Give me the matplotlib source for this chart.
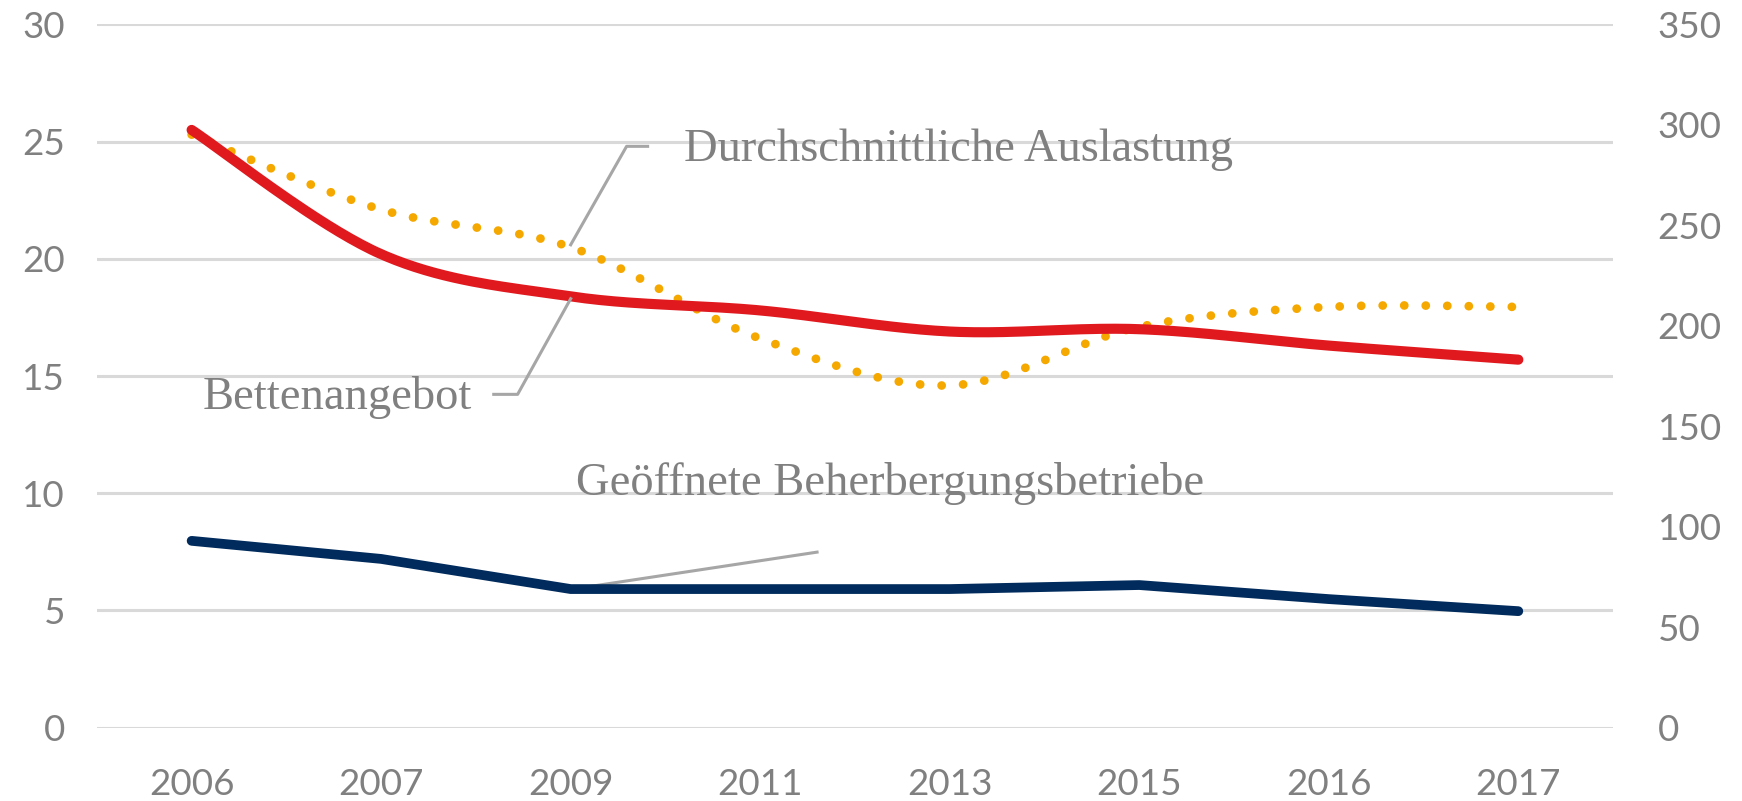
import numpy as np
import matplotlib
matplotlib.use("Agg")
from matplotlib import pyplot as plt

# data
years = ['2006', '2007', '2009', '2011', '2013', '2015', '2016', '2017']
bettenangebot = [25.5, 20.2, 18.4, 17.8, 16.9, 17.0, 16.3, 15.7]      # left axis
auslastung = [25.3, 22.1, 20.5, 16.6, 14.6, 17.1, 17.95, 17.95]       # left axis
betriebe = [93, 84, 69, 69, 69, 71, 64, 58]                            # right axis
left_ticks = [0, 5, 10, 15, 20, 25, 30]
right_ticks = [0, 50, 100, 150, 200, 250, 300, 350]

RED = '#E0191F'
NAVY = '#002B5C'
ORANGE = '#F5A800'
GRID = '#D9D9D9'
TXT = '#808080'
LEAD = '#A6A6A6'

def smooth(xs, ys, n=40):
    # catmull-rom style bezier, like "smoothed line" in spreadsheets
    xs = np.asarray(xs, float)
    ys = np.asarray(ys, float)
    px = np.concatenate(([xs[0]], xs, [xs[-1]]))
    py = np.concatenate(([ys[0]], ys, [ys[-1]]))
    outx, outy = [], []
    t = np.linspace(0, 1, n)
    for i in range(1, len(px) - 2):
        p0 = np.array([px[i], py[i]])
        p3 = np.array([px[i + 1], py[i + 1]])
        c1 = p0 + (p3 - np.array([px[i - 1], py[i - 1]])) / 6
        c2 = p3 - (np.array([px[i + 2], py[i + 2]]) - p0) / 6
        b = ((1 - t) ** 3)[:, None] * p0 + (3 * (1 - t) ** 2 * t)[:, None] * c1 \
            + (3 * (1 - t) * t ** 2)[:, None] * c2 + (t ** 3)[:, None] * p3
        outx.extend(b[:, 0])
        outy.extend(b[:, 1])
    return np.array(outx), np.array(outy)

fig = plt.figure(figsize=(17.42, 8.01), dpi=100)
ax = fig.add_axes([0.0556, 0.0915, 0.8704, 0.878])
ax2 = ax.twinx()

x = np.arange(len(years))

for y in left_ticks:
    ax.axhline(y, color=GRID, lw=2.2, zorder=0)

sx, sy = smooth(x, auslastung)
ax.plot(sx, sy, color=ORANGE, lw=6.3, linestyle=(0, (0.01, 2.45)),
        dash_capstyle='round', zorder=3)
sx, sy = smooth(x, bettenangebot)
ax.plot(sx, sy, color=RED, lw=7.3, solid_capstyle='round', zorder=4)
ax2.plot(x, betriebe, color=NAVY, lw=7.0, solid_capstyle='round',
         solid_joinstyle='round', zorder=4)

ax.set_xlim(-0.5, len(years) - 0.5)
ax.set_ylim(0, 30)
ax2.set_ylim(0, 350)
ax.set_xticks(x)
ax.set_xticklabels(years)
ax.set_yticks(left_ticks)
ax2.set_yticks(right_ticks)

for lab in ax.get_xticklabels() + ax.get_yticklabels() + ax2.get_yticklabels():
    lab.set_fontfamily('Lato')
    lab.set_fontsize(26.5)
    lab.set_color(TXT)
ax.tick_params(axis='y', length=0, pad=23)
ax.tick_params(axis='x', length=0, pad=29)
ax2.tick_params(axis='y', length=0, pad=32)
for a in (ax, ax2):
    for s in a.spines.values():
        s.set_visible(False)

# labels with leader lines
lab_font = dict(family='Liberation Serif', size=33.5, color=TXT, va='center', ha='left')
ax.text(2.60, 24.64, 'Durchschnittliche Auslastung', **lab_font)
ax.plot([2.406, 2.295, 2.0], [24.8, 24.8, 20.6], color=LEAD, lw=2.2, zorder=5)

ax.text(0.06, 14.1, 'Bettenangebot', **lab_font)
ax.plot([1.594, 1.72, 2.0], [14.22, 14.22, 18.3], color=LEAD, lw=2.2, zorder=5)

ax.text(2.03, 10.4, 'Geöffnete Beherbergungsbetriebe', **lab_font)
ax.plot([2.0, 3.30], [5.9, 7.49], color=LEAD, lw=2.2, zorder=5)

fig.savefig('out.png', dpi=100)
